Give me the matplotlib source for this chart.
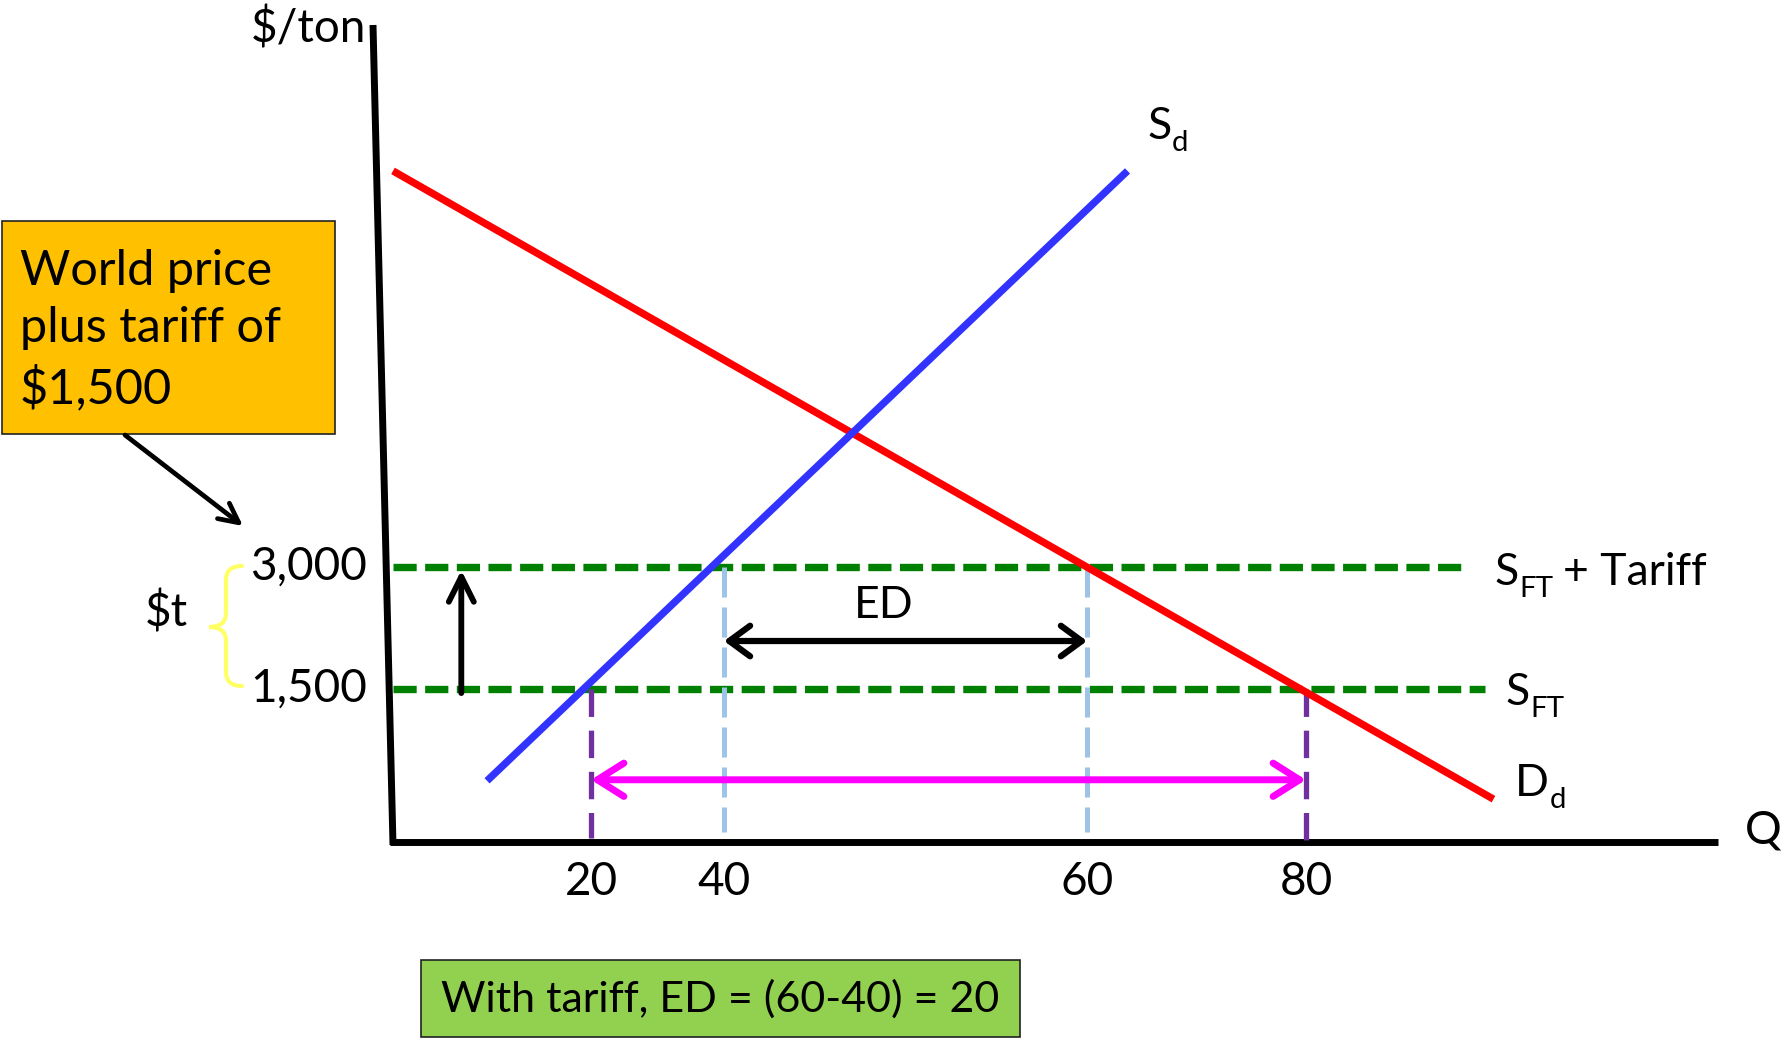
import numpy as np
import matplotlib
matplotlib.use("Agg")
import matplotlib.pyplot as plt
from matplotlib.path import Path
from matplotlib.patches import PathPatch, Rectangle

# Chart data (schematic tariff diagram)
qty_ticks = [20, 40, 60, 80]
price_ticks = [1500, 3000]
price_labels = ["1,500", "3,000"]
world_price = 1500
tariff = 1500
tariff_price = world_price + tariff

demand_q = [0, 89.1]
demand_p = [7870, 420]
supply_q = [9.5, 63.7]
supply_p = [600, 7870]
sft_tariff_q = [0, 87.9]
sft_q = [0, 88.7]

q_supply_free, q_supply_tariff = 20, 40
q_demand_tariff, q_demand_free = 60, 80

# the axes are hand drawn and not to scale: anchor ticks to their spots
W, H = 1785, 1040
Q_ANCHOR = [-50, 0, 20, 40, 60, 80, 100, 150]
Q_PIX = [-102, 393, 591, 724, 1087, 1306, 1718, 2748]
P_ANCHOR = [-3000, 0, 1500, 3000, 12000]
P_PIX = [1148, 842, 689, 567, -165]


def fwd_x(q):
    return np.interp(q, Q_ANCHOR, Q_PIX)


def inv_x(px):
    return np.interp(px, Q_PIX, Q_ANCHOR)


def fwd_y(p):
    return H - np.interp(p, P_ANCHOR, P_PIX)


def inv_y(h):
    return np.interp(H - np.asarray(h), P_PIX[::-1], P_ANCHOR[::-1])


def fx(px, py):
    """pixel position (from top-left) -> axes fraction"""
    return (px / W, 1 - py / H)


plt.rcParams['font.family'] = ['Lato', 'DejaVu Sans']

fig = plt.figure(figsize=(W / 100, H / 100), dpi=100)
ax = fig.add_axes([0, 0, 1, 1])
ax.set_xscale('function', functions=(fwd_x, inv_x))
ax.set_yscale('function', functions=(fwd_y, inv_y))
ax.set_xlim(inv_x(0), inv_x(W))
ax.set_ylim(inv_y(0), inv_y(H))
ax.axis('off')
renderer = fig.canvas.get_renderer()

TXT = 32
TICK = 33


def sub_label(px, py, base, sub, rest='', size=TXT):
    """text with a lowered subscript, baseline at pixel (px, py)"""
    t = ax.text(*fx(px, py), base, transform=ax.transAxes, ha='left', va='baseline', fontsize=size)
    w = t.get_window_extent(renderer).width * 72 / fig.dpi
    s = ax.annotate(sub, xy=fx(px, py), xycoords='axes fraction', xytext=(w + 0.5, -0.27 * size),
                    textcoords='offset points', ha='left', va='baseline', fontsize=0.66 * size)
    if rest:
        w2 = s.get_window_extent(renderer).width * 72 / fig.dpi
        ax.annotate(rest, xy=fx(px, py), xycoords='axes fraction', xytext=(w + w2 + 8, 0),
                    textcoords='offset points', ha='left', va='baseline', fontsize=size)


# hand drawn axes
ax.plot(*zip(fx(373, 25), fx(393, 845)), transform=ax.transAxes, color='black', lw=5,
        solid_capstyle='butt')
ax.plot(*zip(fx(390, 842), fx(1718, 842)), transform=ax.transAxes, color='black', lw=5,
        solid_capstyle='butt')
ax.text(*fx(366, 28), "$/ton", transform=ax.transAxes, ha='right', va='center', fontsize=TICK)
ax.text(*fx(1763, 830), "Q", transform=ax.transAxes, ha='center', va='center', fontsize=TICK)

# world price lines
ax.plot(sft_tariff_q, [tariff_price] * 2, color='#008000', lw=5.3, linestyle=(0, (3.15, 1.15)))
ax.plot(sft_q, [world_price] * 2, color='#008000', lw=5.3, linestyle=(0, (3.15, 1.15)))

# quantity drop lines
for q in (q_supply_tariff, q_demand_tariff):
    ax.plot([q, q], [tariff_price, 100], color='#9DC3E6', lw=3.6, linestyle=(0, (6.0, 2.0)))
ax.plot([q_supply_free] * 2, [world_price, 40], color='#7030A0', lw=3.8, linestyle=(0, (5.2, 2.6)))
ax.plot([q_demand_free] * 2, [world_price, 0], color='#7030A0', lw=3.8, linestyle=(0, (5.2, 2.6)))

# demand and supply
ax.plot(demand_q, demand_p, color='#FF0000', lw=5.3, solid_capstyle='butt')
ax.plot(supply_q, supply_p, color='#3333FF', lw=5.3, solid_capstyle='butt')

# arrows
ax.annotate('', xy=(q_demand_tariff, 2090), xytext=(q_supply_tariff, 2090),
            arrowprops=dict(arrowstyle='<->,head_length=1.5,head_width=1.1', lw=4.5, color='black',
                            mutation_scale=10, shrinkA=0, shrinkB=0,
                            capstyle='round', joinstyle='round'))
ax.text(48.8, 2525, "ED", ha='center', va='center', fontsize=TXT)
ax.annotate('', xy=(q_demand_free, 610), xytext=(q_supply_free, 610),
            arrowprops=dict(arrowstyle='<->,head_length=1.9,head_width=1.2', lw=5, color='#FF00FF',
                            mutation_scale=10, shrinkA=0, shrinkB=0,
                            capstyle='round', joinstyle='round'))
ax.annotate('', xy=(6.9, 2960), xytext=(6.9, world_price - 40),
            arrowprops=dict(arrowstyle='->,head_length=1.8,head_width=0.9', lw=4.2, color='black',
                            mutation_scale=10, shrinkA=0, shrinkB=0,
                            capstyle='round', joinstyle='round'))

# tick labels
for q in qty_ticks:
    ax.annotate(str(q), xy=(q, 0), xytext=(0, -29), textcoords='offset points',
                ha='center', va='center', fontsize=TICK)
for p, lab in zip(price_ticks, price_labels):
    ax.annotate(lab, xy=(0, p), xytext=(-19, 0), textcoords='offset points',
                ha='right', va='center', fontsize=TICK)

# curve labels
sub_label(1147, 139, "S", "d")
sub_label(1494, 585, "S", "FT", "+ Tariff")
sub_label(1505, 705, "S", "FT")
sub_label(1515, 796, "D", "d")

# tariff brace
verts = [fx(242, 566), fx(226, 566), fx(226, 580), fx(226, 613), fx(226, 627), fx(209, 627),
         fx(226, 627), fx(226, 641), fx(226, 672), fx(226, 686), fx(242, 686)]
codes = [Path.MOVETO, Path.CURVE3, Path.CURVE3, Path.LINETO, Path.CURVE3, Path.CURVE3,
         Path.CURVE3, Path.CURVE3, Path.LINETO, Path.CURVE3, Path.CURVE3]
ax.add_patch(PathPatch(Path(verts, codes), transform=ax.transAxes, fill=False,
                       edgecolor='#FFFF66', lw=3, capstyle='round'))
ax.text(*fx(166, 613), "$t", transform=ax.transAxes, ha='center', va='center', fontsize=TICK)

# callout boxes
x0, y0 = fx(2, 434)
x1, y1 = fx(335, 221)
ax.add_patch(Rectangle((x0, y0), x1 - x0, y1 - y0, transform=ax.transAxes,
                       facecolor='#FFC000', edgecolor='#222222', lw=1.2))
ax.text(*fx(20, 330), "World price\nplus tariff of\n$1,500", transform=ax.transAxes,
        ha='left', va='center', fontsize=35, linespacing=1.38)
ax.annotate('', xy=fx(243, 526), xytext=fx(125, 435), xycoords='axes fraction',
            arrowprops=dict(arrowstyle='->,head_length=1.4,head_width=0.7', lw=3.4, color='black',
                            mutation_scale=10, shrinkA=0, shrinkB=0,
                            capstyle='round', joinstyle='round'))

x0, y0 = fx(421, 1037)
x1, y1 = fx(1020, 960)
ax.add_patch(Rectangle((x0, y0), x1 - x0, y1 - y0, transform=ax.transAxes,
                       facecolor='#92D050', edgecolor='#222222', lw=1.2))
ax.text(*fx(720, 999), "With tariff, ED = (60-40) = 20", transform=ax.transAxes,
        ha='center', va='center', fontsize=31)

fig.savefig('out.png', dpi=100)
